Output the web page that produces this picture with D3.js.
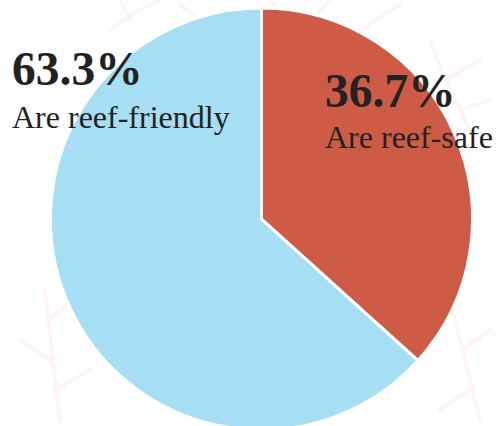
<!DOCTYPE html>
<html><head><meta charset="utf-8">
<script src="https://cdn.jsdelivr.net/npm/d3@7"></script>
<style>html,body{margin:0;padding:0;background:#fff;}svg{display:block;}</style>
</head><body>
<script>
const categories = ["Are reef-safe", "Are reef-friendly"];
const values = [36.7, 63.3];
const labels = ["36.7%", "63.3%"];
const colors = ["#cd5b46", "#a6def3"];

const W = 496, H = 426;
const svg = d3.select("body").append("svg").attr("width", W).attr("height", H);

// faint coral background decoration
const deco = svg.append("g").attr("fill", "none").attr("stroke", "#fef5f3").attr("stroke-width", 4).attr("stroke-linecap", "round");
const branches = [
  "M60,420 C55,380 50,330 45,290", "M50,360 L20,340", "M55,390 L90,370", "M48,320 L75,300",
  "M300,40 C310,25 320,10 330,0", "M290,20 L270,0", "M340,50 C360,30 380,15 400,5",
  "M430,40 C440,70 455,100 470,130", "M445,80 L480,60", "M460,110 L490,100",
  "M450,300 C460,340 470,380 480,420", "M462,350 L490,330", "M470,390 L440,410",
  "M110,30 C120,20 140,10 160,0", "M130,20 L120,0", "M180,5 L200,20"
];
deco.selectAll("path").data(branches).join("path").attr("d", d => d);

const cx = 261.5, cy = 219, r = 211;
const pie = d3.pie().sort(null).value(d => d)(values);
const arc = d3.arc().innerRadius(0).outerRadius(r);
const g = svg.append("g").attr("transform", `translate(${cx},${cy})`);
g.selectAll("path").data(pie).join("path")
  .attr("d", arc)
  .attr("fill", (d, i) => colors[i])
  .attr("stroke", "#fff").attr("stroke-width", 3).attr("stroke-linejoin", "miter");

const font = "'Liberation Serif', 'Times New Roman', serif";
const labelPos = [
  {x: 325, y1: 107, y2: 148},
  {x: 12, y1: 85, y2: 128}
];
labelPos.forEach((p, i) => {
  svg.append("text").attr("x", p.x).attr("y", p.y1)
    .attr("font-family", font).attr("font-weight", "bold").attr("font-size", 47.5)
    .attr("fill", "#222").text(labels[i]);
  svg.append("text").attr("x", p.x).attr("y", p.y2)
    .attr("font-family", font).attr("font-size", 32)
    .attr("fill", "#222").text(categories[i]);
});
</script>
</body></html>
